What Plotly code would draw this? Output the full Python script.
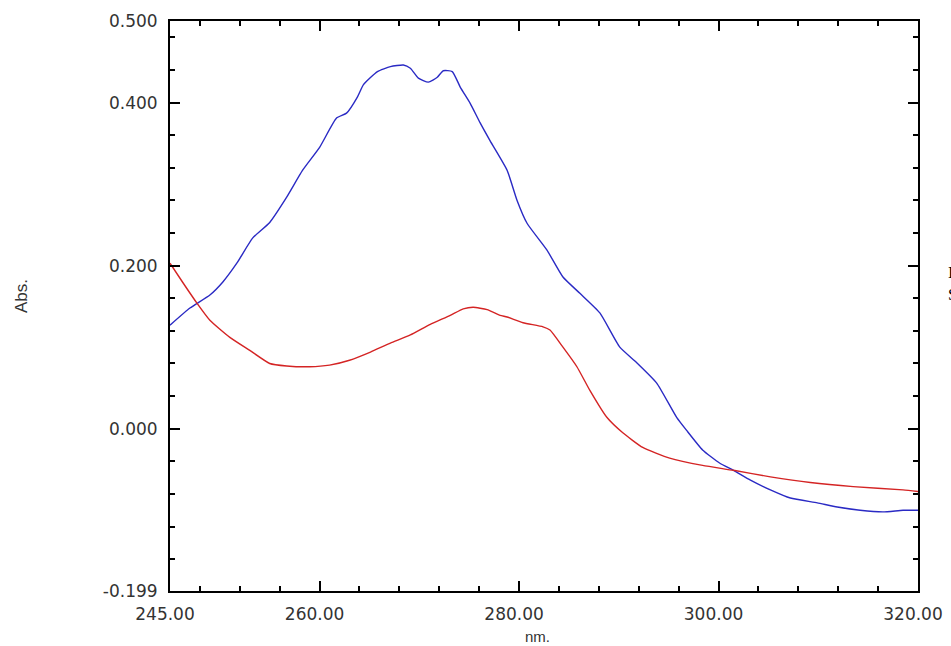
import plotly.graph_objects as go

# Wavelength (nm) / absorbance readings
blue_nm = [245.0, 247.0, 249.0, 250.3, 251.7, 253.3, 255.0, 256.7, 258.3, 260.0,
           261.7, 262.7, 263.8, 264.4, 265.8, 267.1, 268.4, 269.1, 269.9, 270.9,
           271.8, 272.4, 273.3, 274.1, 275.1, 276.1, 277.1, 278.8, 279.8, 280.8,
           282.8, 284.4, 286.1, 288.1, 290.1, 291.8, 293.8, 295.8, 296.8, 298.4,
           300.1, 301.5, 303.2, 305.2, 307.2, 309.9, 311.9, 314.2, 316.5, 318.5, 320.0]
blue_abs = [0.127, 0.148, 0.164, 0.180, 0.203, 0.234, 0.253, 0.284, 0.317, 0.345,
            0.381, 0.387, 0.407, 0.422, 0.438, 0.444, 0.446, 0.442, 0.430, 0.425,
            0.431, 0.439, 0.438, 0.419, 0.399, 0.375, 0.353, 0.317, 0.280, 0.252,
            0.219, 0.186, 0.166, 0.142, 0.100, 0.081, 0.056, 0.014, -0.002, -0.026,
            -0.042, -0.051, -0.063, -0.075, -0.085, -0.091, -0.096, -0.100, -0.102, -0.100, -0.100]

red_nm = [245.0, 246.3, 247.7, 249.0, 251.0, 253.0, 255.0, 256.7, 259.0, 261.0,
          263.0, 265.1, 267.1, 269.1, 271.1, 273.1, 274.4, 275.4, 276.8, 278.1,
          278.8, 280.4, 282.4, 283.1, 284.4, 285.8, 287.1, 288.8, 290.4, 292.4,
          295.1, 298.4, 301.5, 305.2, 309.2, 313.5, 318.5, 320.0]
red_abs = [0.203, 0.179, 0.154, 0.133, 0.112, 0.096, 0.080, 0.077, 0.076, 0.078,
           0.084, 0.094, 0.105, 0.115, 0.128, 0.139, 0.147, 0.149, 0.146, 0.139,
           0.137, 0.130, 0.125, 0.121, 0.100, 0.076, 0.047, 0.014, -0.005, -0.023,
           -0.036, -0.045, -0.051, -0.059, -0.066, -0.071, -0.075, -0.077]

x_tickvals = [245, 260, 280, 300, 320]
x_ticktext = ["245.00", "260.00", "280.00", "300.00", "320.00"]
y_tickvals = [-0.199, 0.0, 0.2, 0.4, 0.5]
y_ticktext = ["-0.199", "0.000", "0.200", "0.400", "0.500"]

W, H = 951, 646
L, R, T, B = 170, 33, 21, 55
pw, ph = W - L - R, H - T - B

def px(p):
    return (p - L) / pw

def py(p):
    return (H - B - p) / ph

fig = go.Figure()
fig.add_trace(go.Scatter(x=blue_nm, y=blue_abs, mode="lines",
                         line=dict(color="#2a2ac4", width=1.4, shape="spline", smoothing=0.5),
                         showlegend=False, hoverinfo="skip"))
fig.add_trace(go.Scatter(x=red_nm, y=red_abs, mode="lines",
                         line=dict(color="#d42424", width=1.4, shape="spline", smoothing=0.5),
                         showlegend=False, hoverinfo="skip"))

tickfont = dict(family="DejaVu Sans, Verdana, sans-serif", size=17, color="#333333")

fig.update_xaxes(range=[245, 320], tickmode="array", tickvals=x_tickvals, ticktext=x_ticktext,
                 ticks="inside", ticklen=10, tickwidth=1.5, tickcolor="black",
                 showline=True, linecolor="black", linewidth=2, mirror="allticks",
                 showgrid=False, zeroline=False, tickfont=tickfont, ticklabelstandoff=7,
                 ticklabelshift=-5,
                 minor=dict(tickmode="linear", tick0=0, dtick=4, ticks="inside", ticklen=5,
                            tickwidth=1.5, tickcolor="black", showgrid=False))
fig.update_yaxes(range=[-0.199, 0.5], tickmode="array", tickvals=y_tickvals, ticktext=y_ticktext,
                 ticks="inside", ticklen=10, tickwidth=1.5, tickcolor="black",
                 showline=True, linecolor="black", linewidth=2, mirror="allticks",
                 showgrid=False, zeroline=False, tickfont=tickfont, ticklabelstandoff=7,
                 minor=dict(tickmode="linear", tick0=0, dtick=0.04, ticks="inside", ticklen=5,
                            tickwidth=1.5, tickcolor="black", showgrid=False))

annots = [
    dict(text="Abs.", x=px(22), y=py(296), textangle=-90,
         font=dict(family="Liberation Sans, Arial, sans-serif", size=17, color="#333333")),
    dict(text="nm.", x=px(537), y=py(636),
         font=dict(family="Liberation Sans, Arial, sans-serif", size=15, color="#333333")),
    dict(text="I", x=px(946), y=py(272), xanchor="left",
         font=dict(family="Liberation Serif, Times New Roman, serif", size=17, color="black")),
    dict(text="S", x=px(946), y=py(294), xanchor="left",
         font=dict(family="Liberation Serif, Times New Roman, serif", size=17, color="black")),
]
for a in annots:
    a.update(xref="paper", yref="paper", showarrow=False)
    a.setdefault("xanchor", "center")
    a.setdefault("yanchor", "middle")
fig.update_layout(annotations=annots)

fig.update_layout(width=W, height=H, margin=dict(l=L, r=R, t=T, b=B, autoexpand=False),
                  plot_bgcolor="white", paper_bgcolor="white")

fig.write_html("out.html")
